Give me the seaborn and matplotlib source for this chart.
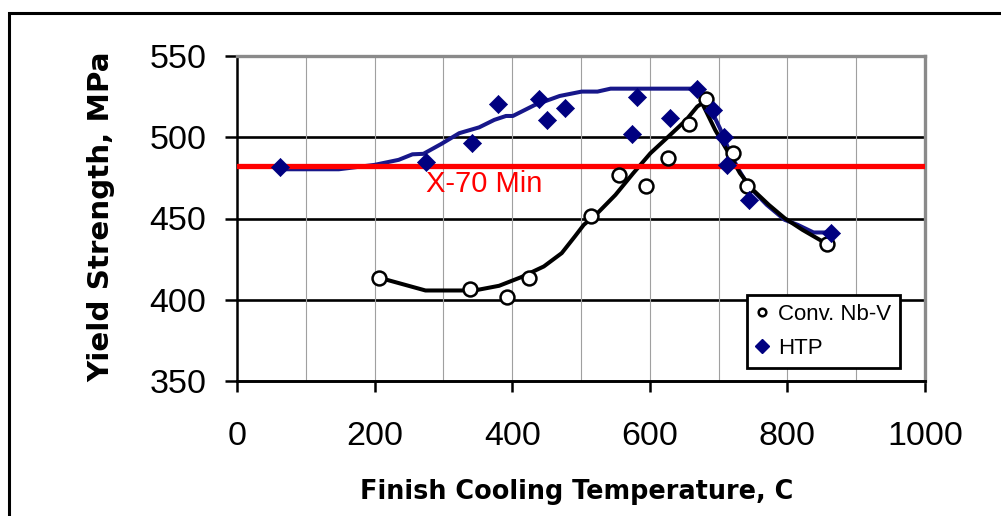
import matplotlib
matplotlib.use("Agg")
import matplotlib.pyplot as plt
import seaborn as sns
import pandas as pd
from matplotlib.patches import Rectangle
from matplotlib.lines import Line2D

# Measured yield strength vs. finish cooling temperature
conv_temp = [207, 338, 393, 424, 515, 555, 594, 626, 657, 681, 721, 742, 857]
conv_ys = [413.3, 406.6, 401.6, 413.3, 451.8, 476.8, 470.3, 487.1, 508.2, 523.8, 490.6, 470.3, 434.4]

htp_temp = [62, 274, 341, 380, 439, 450, 477, 574, 582, 629, 669, 692, 708, 712, 744, 864]
htp_ys = [482.0, 484.6, 496.3, 520.5, 523.8, 510.7, 518.0, 501.8, 524.6, 512.0, 529.5, 516.8, 500.0, 483.0, 461.5, 441.0]

# Hand-fitted trend curves
conv_fit_temp = [209, 274, 345, 381, 413, 446, 472, 491, 504, 524, 550, 576, 601, 627, 653,
                 669, 676, 682, 695, 712, 731, 750, 773, 796, 822, 851]
conv_fit_ys = [413.3, 405.7, 405.7, 408.6, 413.9, 420.5, 428.7, 438.9, 446.1, 453.3, 464.5, 477.9,
               490.2, 500.4, 510.7, 518.9, 520.9, 515.8, 504.5, 492.2, 477.9, 467.6, 458.4, 450.2,
               443.0, 435.9]

htp_fit_temp = [62, 148, 200, 235, 255, 271, 297, 323, 352, 374, 391, 401, 433, 469, 501, 524,
                543, 666, 676, 689, 702, 715, 728, 744, 770, 796, 815, 838, 864]
htp_fit_ys = [480.3, 480.3, 483.0, 486.1, 489.5, 489.8, 495.9, 502.5, 506.1, 510.7, 513.1, 513.1,
              519.9, 525.4, 528.1, 528.1, 529.9, 529.9, 525.0, 516.8, 505.5, 492.2, 480.9, 469.7,
              458.4, 449.2, 446.1, 441.4, 441.4]

x70_min = 482.6
x_ticks = [0, 200, 400, 600, 800, 1000]
y_ticks = [350, 400, 450, 500, 550]
series_names = ["Conv. Nb-V", "HTP"]

sns.set_style("white")
plt.rcParams["font.family"] = ["Liberation Sans", "DejaVu Sans"]
plt.rcParams["text.color"] = "black"
plt.rcParams["xtick.color"] = "black"
plt.rcParams["ytick.color"] = "black"
plt.rcParams["xtick.labelcolor"] = "black"
plt.rcParams["ytick.labelcolor"] = "black"

NAVY = "#000080"
LINE_BLUE = "#17178a"

fig = plt.figure(figsize=(10.01, 5.16), dpi=100)
ax = fig.add_axes([237 / 1001, 1 - 381 / 516, 688 / 1001, 325 / 516])

conv_fit = pd.DataFrame({"temp": conv_fit_temp, "ys": conv_fit_ys})
htp_fit = pd.DataFrame({"temp": htp_fit_temp, "ys": htp_fit_ys})
conv_pts = pd.DataFrame({"temp": conv_temp, "ys": conv_ys})
htp_pts = pd.DataFrame({"temp": htp_temp, "ys": htp_ys})

sns.lineplot(data=htp_fit, x="temp", y="ys", sort=False, estimator=None, color=LINE_BLUE,
             linewidth=2.9, ax=ax, legend=False, zorder=3)
sns.lineplot(data=conv_fit, x="temp", y="ys", sort=False, estimator=None, color="black",
             linewidth=2.9, ax=ax, legend=False, zorder=3)

ax.axhline(x70_min, color="#ff0000", linewidth=3.8, zorder=4)
ax.text(275, 466.3, "X-70 Min", color="#ff0000", fontsize=21, ha="left", va="baseline", zorder=4)

sns.scatterplot(data=conv_pts, x="temp", y="ys", marker="o", s=100, color="white",
                edgecolor="black", linewidth=1.8, ax=ax, zorder=5)
sns.scatterplot(data=htp_pts, x="temp", y="ys", marker="D", s=85, color=NAVY,
                edgecolor=NAVY, linewidth=0.5, ax=ax, zorder=6)

ax.set_xlim(0, 1000)
ax.set_ylim(350, 550)
ax.set_xticks(x_ticks)
ax.set_yticks(y_ticks)

# Grid: heavy black horizontals, thin grey verticals
ax.grid(False)
for v in y_ticks[1:-1]:
    ax.axhline(v, color="black", linewidth=1.9, zorder=1)
for t in range(100, 1000, 100):
    ax.axvline(t, color="#a0a0a0", linewidth=0.8, zorder=1)

ax.tick_params(axis="x", direction="out", length=8, width=1.8,
               pad=21, labelsize=24.5, bottom=True)
ax.tick_params(axis="y", direction="out", length=9, width=1.8, pad=13,
               labelsize=24.5, left=True)

ax.spines["left"].set_color("black")
ax.spines["left"].set_linewidth(1.8)
ax.spines["bottom"].set_color("black")
ax.spines["bottom"].set_linewidth(2.1)
for side in ("top", "right"):
    ax.spines[side].set_color("#8a8a8a")
    ax.spines[side].set_linewidth(2.4)
    ax.spines[side].set_visible(True)

ax.set_xlabel("")
ax.set_ylabel("")
fig.text(577 / 1001, 1 - 492 / 516, "Finish Cooling Temperature, C", family="DejaVu Sans",
         fontweight="bold", fontsize=18.4, ha="center", va="center", color="black")
fig.text(101 / 1001, 1 - 217 / 516, "Yield Strength, MPa", family="DejaVu Sans",
         fontweight="bold", fontsize=21.2, rotation=90, ha="center", va="center", color="black")

handles = [
    Line2D([], [], marker="o", ls="", mfc="white", mec="black", ms=5.5, mew=1.8),
    Line2D([], [], marker="D", ls="", mfc=NAVY, mec=NAVY, ms=7),
]
leg = ax.legend(handles, series_names, loc="upper left", bbox_to_anchor=(0.741, 0.265),
                borderaxespad=0, fontsize=16, frameon=True, fancybox=False, shadow=False,
                framealpha=1.0, handlelength=0.6, handletextpad=0.4, borderpad=0.4,
                labelspacing=0.6)
leg.get_frame().set_edgecolor("black")
leg.get_frame().set_linewidth(2.0)
leg.set_zorder(10)

# Outer frame around the chart area
fig.add_artist(Rectangle((9 / 1001, -0.2), 1.5, 1 - 13 / 516 + 0.2, transform=fig.transFigure,
                         fill=False, edgecolor="black", linewidth=2.2, clip_on=False))

fig.savefig("out.png", dpi=100)
